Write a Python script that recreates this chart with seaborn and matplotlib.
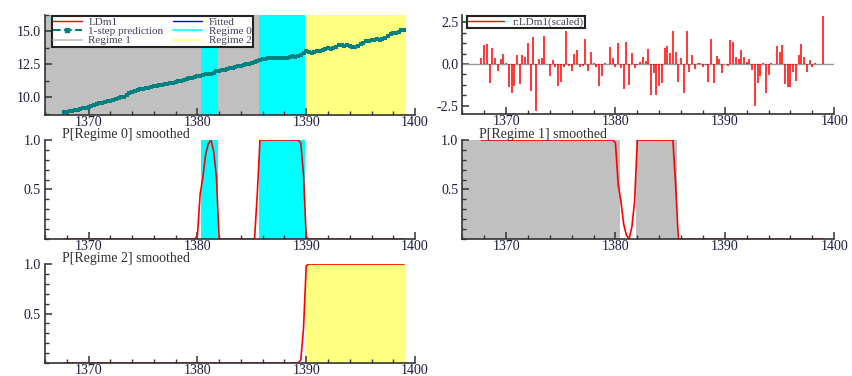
import matplotlib.pyplot as plt
import seaborn as sns
from matplotlib.lines import Line2D
from matplotlib.ticker import MultipleLocator, FormatStrFormatter

# quarterly sample 1367Q4 .. 1399Q1
start_year = 1367.75
n_obs = 126
dates = [start_year + 0.25 * i for i in range(n_obs)]

ldm1 = [8.87,
        8.90, 8.93, 8.97, 9.00,
        9.05, 9.12, 9.15, 9.22,
        9.30, 9.36, 9.45, 9.52,
        9.55, 9.58, 9.64, 9.70,
        9.73, 9.78, 9.85, 9.93,
        10.00, 10.05, 10.18, 10.30,
        10.38, 10.45, 10.52, 10.60,
        10.65, 10.70, 10.74, 10.78,
        10.82, 10.86, 10.90, 10.94,
        10.98, 11.02, 11.06, 11.10,
        11.16, 11.20, 11.27, 11.32,
        11.38, 11.43, 11.48, 11.54,
        11.58, 11.63, 11.70, 11.76,
        11.80, 11.76, 11.85, 11.98,
        12.03, 12.06, 12.10, 12.16,
        12.20, 12.26, 12.30, 12.36,
        12.40, 12.45, 12.50, 12.55,
        12.60, 12.66, 12.74, 12.81,
        12.88, 12.94, 12.98, 13.00,
        12.98, 12.99, 12.97, 13.00,
        13.02, 12.98, 13.06, 13.10,
        13.08, 13.15, 13.25, 13.40,
        13.50, 13.42, 13.40, 13.44,
        13.48, 13.55, 13.62, 13.68,
        13.72, 13.70, 13.78, 13.85,
        14.00, 13.95, 13.90, 13.94,
        13.92, 13.85, 13.82, 13.90,
        14.05, 14.10, 14.27, 14.30,
        14.33, 14.35, 14.40, 14.38,
        14.45, 14.52, 14.62, 14.80,
        14.88, 14.92, 14.98, 15.10,
        15.08]
# 1-step prediction and fitted values sit on top of the data in the chart
prediction = list(ldm1)
fitted = list(ldm1)

resid_scaled = [0.38, 1.13, 1.19, -1.15, 0.97, 0.34, -0.42, 0.30, 0.62, 0.05,
                -1.39, -1.75, -1.31, 0.56, -1.19, 0.56, 0.44, 1.23, -1.59, 1.59,
                -2.80, 0.30, 0.36, 1.67, 0.00, -0.71, 0.24, -0.16, -1.29, -1.05,
                -0.16, 1.94, -0.10, -0.42, 0.62, 0.83, -0.20, -0.12, 1.49, -0.42,
                0.73, 0.05, -0.20, -1.31, -0.71, 0.08, 0.02, 1.00, 0.34, -0.16,
                1.23, -0.22, -1.50, 1.29, -1.23, 0.63, -0.26, -0.06, 0.12, 0.44,
                0.20, 0.87, -1.85, -0.56, -1.85, -1.31, -1.11, 0.97, 1.07, 0.63,
                1.96, 0.73, -1.05, 0.34, -1.75, 1.96, -0.48, 0.56, -0.30, 0.08,
                0.08, -0.20, -0.05, -1.09, 1.47, -1.15, 0.48, 0.30, -0.56, 0.02,
                -0.12, 1.43, 1.29, 0.44, 0.30, 0.83, 0.44, 0.14, 0.28, -0.36,
                -2.50, -1.15, -0.71, 0.03, -1.75, -0.65, 0.08, 0.02, 1.07, 0.73,
                1.15, -1.19, -1.39, -1.35, -0.46, -0.99, 0.56, 1.19, 0.44, -0.46,
                0.24, -0.16, 0.04, 0.00, 0.00, 2.86]

p_regime0 = ([0.0] * 49 + [0.03, 0.45, 0.62, 0.85, 0.96, 1.0, 0.88, 0.62]
             + [0.0] * 14 + [0.45] + [1.0] * 15 + [0.97, 0.65, 0.02] + [0.0] * 36)
p_regime1 = ([1.0] * 49 + [0.97, 0.55, 0.38, 0.15, 0.04, 0.0, 0.12, 0.38]
             + [1.0] * 14 + [0.55] + [0.0] * 15 + [0.0, 0.0, 0.0] + [0.0] * 36)
p_regime2 = [0.0] * 87 + [0.03, 0.35, 0.98] + [1.0] * 36

# regime classification periods
span_start = [1366.0, 1380.375, 1381.875, 1385.625, 1389.875]
span_end = [1380.375, 1381.875, 1385.625, 1389.875, 1399.125]
span_regime = [1, 0, 1, 0, 2]

regime_colors = {0: '#00FFFF', 1: '#C0C0C0', 2: '#FFFF80'}
RED = '#FF0000'
TEAL = '#008080'
BLUE = '#0000FF'
TXT = '#1c1c44'

sns.set_style('ticks')
plt.rcParams['font.family'] = ['Liberation Serif', 'DejaVu Serif']
plt.rcParams['axes.linewidth'] = 1.2

fig = plt.figure(figsize=(8.53, 3.76), dpi=100)
ax_tl = fig.add_axes([0.0528, 0.694, 0.4338, 0.266])
ax_tr = fig.add_axes([0.5420, 0.697, 0.4360, 0.263])
ax_ml = fig.add_axes([0.0528, 0.3644, 0.4338, 0.2633])
ax_mr = fig.add_axes([0.5420, 0.3644, 0.4360, 0.2633])
ax_bl = fig.add_axes([0.0528, 0.0345, 0.4338, 0.2634])


def shade(ax, which=None):
    for s, e, r in zip(span_start, span_end, span_regime):
        if which is None or r == which:
            ax.axvspan(s, e, color=regime_colors[r], lw=0, zorder=0)


def style(ax, minor_y):
    ax.set_xlim(1366, 1400)
    ax.xaxis.set_major_locator(MultipleLocator(10))
    ax.xaxis.set_minor_locator(MultipleLocator(2))
    ax.yaxis.set_minor_locator(MultipleLocator(minor_y))
    ax.yaxis.set_major_formatter(FormatStrFormatter('%.1f'))
    ax.tick_params(which='both', direction='in', colors='#333333',
                   labelcolor=TXT, labelsize=10)
    ax.tick_params(axis='x', pad=0.5)
    ax.tick_params(axis='y', pad=3)
    ax.tick_params(which='major', length=5, width=1.1)
    ax.tick_params(which='minor', length=3, width=1.0)
    for side in ('top', 'right'):
        ax.spines[side].set_visible(False)
    for side in ('left', 'bottom'):
        ax.spines[side].set_color('#333333')
    ax.set_xlabel('')
    ax.set_ylabel('')


# top left: data, fit and regimes
shade(ax_tl)
sns.lineplot(x=dates, y=ldm1, ax=ax_tl, color=RED, lw=1.0, legend=False)
sns.lineplot(x=dates, y=fitted, ax=ax_tl, color=BLUE, lw=1.0, legend=False)
sns.lineplot(x=dates, y=prediction, ax=ax_tl, color=TEAL, lw=1.6,
             linestyle='--', marker='s', markersize=2.6, markeredgewidth=0,
             legend=False)
ax_tl.set_ylim(8.65, 16.25)
ax_tl.set_yticks([10.0, 12.5, 15.0])
style(ax_tl, 1.25)
handles = [Line2D([], [], color=RED, lw=1),
           Line2D([], [], color=TEAL, lw=1.5, ls='--', marker='s', markersize=3),
           Line2D([], [], color=regime_colors[1], lw=1.2),
           Line2D([], [], color=BLUE, lw=1),
           Line2D([], [], color=regime_colors[0], lw=1.2),
           Line2D([], [], color=regime_colors[2], lw=1.2)]
labels = ['LDm1', '1-step prediction', 'Regime 1', 'Fitted', 'Regime 0', 'Regime 2']
leg = ax_tl.legend(handles, labels, ncol=2, loc='upper left',
                   bbox_to_anchor=(0.015, 1.0), fontsize=8, frameon=True,
                   fancybox=False, framealpha=1, borderpad=0.1,
                   labelspacing=-0.05, handlelength=2.6, handletextpad=0.6,
                   columnspacing=0.9, borderaxespad=0.1)
leg.get_frame().set_edgecolor('#222222')
leg.get_frame().set_linewidth(1.5)
for t in leg.get_texts():
    t.set_color('#404060')

# top right: scaled residuals
ax_tr.axhline(0, color='#999999', lw=1.0, zorder=1)
ax_tr.vlines(dates, 0, resid_scaled, color=RED, lw=1.1, zorder=2)
ax_tr.set_ylim(-2.98, 2.92)
ax_tr.set_yticks([-2.5, 0.0, 2.5])
style(ax_tr, 0.625)
res_handle = [Line2D([], [], color=RED, lw=1)]
leg2 = ax_tr.legend(res_handle, ['r:LDm1(scaled)'], loc='upper left',
                    bbox_to_anchor=(0.01, 1.0), fontsize=8, frameon=True,
                    fancybox=False, framealpha=1, borderpad=0.1,
                    handlelength=3.2, borderaxespad=0.1)
leg2.get_frame().set_edgecolor('#222222')
leg2.get_frame().set_linewidth(1.5)
for t in leg2.get_texts():
    t.set_color('#404060')

# smoothed probabilities
for ax, probs, reg, title in [(ax_ml, p_regime0, 0, 'P[Regime 0] smoothed'),
                              (ax_mr, p_regime1, 1, 'P[Regime 1] smoothed'),
                              (ax_bl, p_regime2, 2, 'P[Regime 2] smoothed')]:
    shade(ax, reg)
    sns.lineplot(x=dates, y=probs, ax=ax, color=RED, lw=1.2, legend=False)
    ax.set_ylim(0, 1)
    ax.set_yticks([0.5, 1.0])
    style(ax, 0.1)
    ax.text(0.045, 1.025, title, transform=ax.transAxes, ha='left',
            va='baseline', fontsize=10, color='#303030')

fig.savefig('out.png', dpi=100)
